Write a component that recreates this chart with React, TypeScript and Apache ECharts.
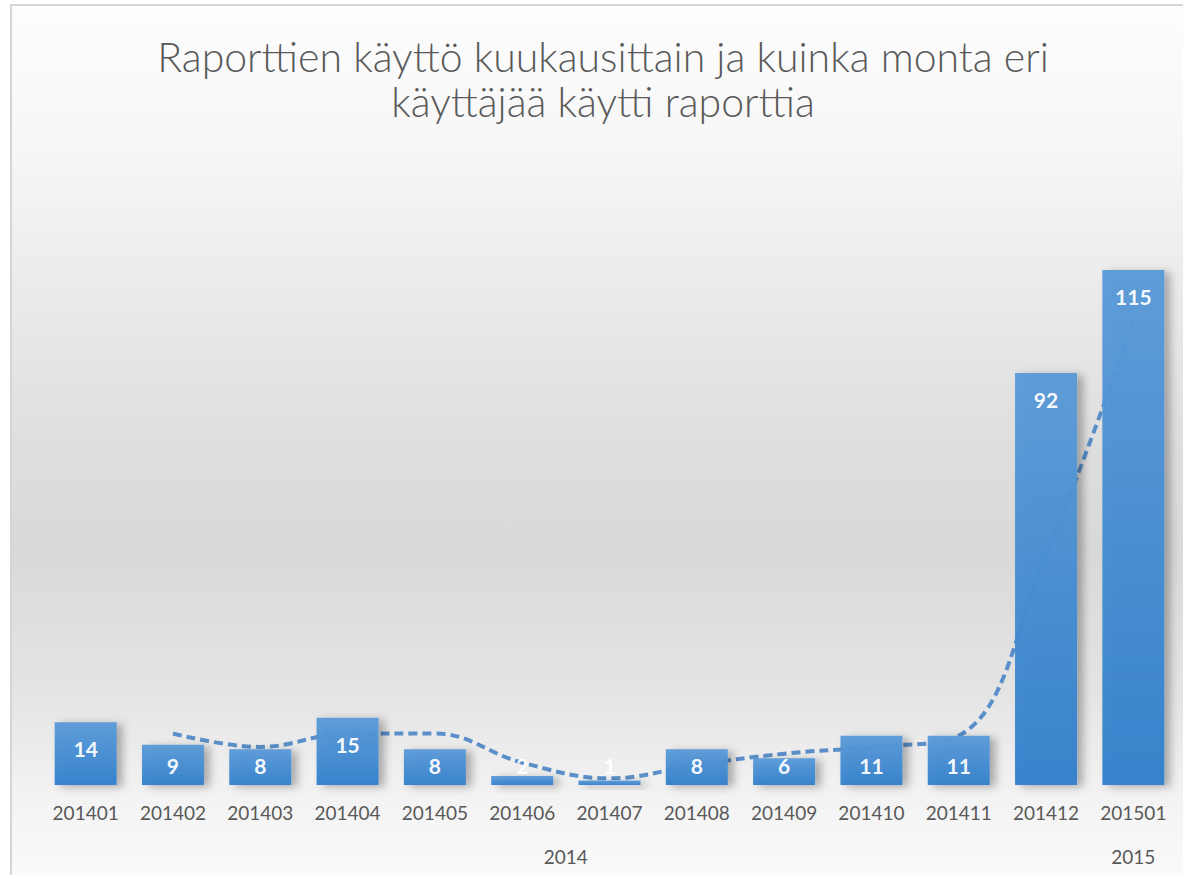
import React, { useEffect, useRef } from "react";
import * as echarts from "echarts";

const TITLE_LINES = [
  "Raporttien käyttö kuukausittain ja kuinka monta eri",
  "käyttäjää käytti raporttia",
];
const months = [
  "201401", "201402", "201403", "201404", "201405", "201406", "201407",
  "201408", "201409", "201410", "201411", "201412", "201501",
];
const usage = [14, 9, 8, 15, 8, 2, 1, 8, 6, 11, 11, 92, 115];
// 2-period moving average trend line
const trend = [null, 11.5, 8.5, 11.5, 11.5, 5, 1.5, 4.5, 7, 8.5, 11, 51.5, 103.5];
const yearGroups = [
  { year: "2014", first: 0, last: 11 },
  { year: "2015", first: 12, last: 12 },
];

const FONT = "Lato, 'Open Sans', sans-serif";

export default function App() {
  const ref = useRef<HTMLDivElement>(null);

  useEffect(() => {
    if (!ref.current) return;
    const chart = echarts.init(ref.current, undefined, { renderer: "svg" });

    const yearLabel = (v: number) => {
      for (const g of yearGroups) {
        const mid = (g.first + g.last) / 2;
        if (Math.abs(v - mid) < 1e-6) return g.year;
      }
      return "";
    };

    chart.setOption({
      animation: false,
      backgroundColor: "transparent",
      title: {
        text: TITLE_LINES.join("\n"),
        left: "center",
        top: 23,
        textStyle: {
          fontFamily: FONT,
          fontWeight: 300,
          fontSize: 41,
          lineHeight: 45,
          color: "#595959",
        },
      },
      grid: { left: 30, right: 17, top: 152, bottom: 90 },
      xAxis: [
        {
          type: "category",
          data: months,
          boundaryGap: true,
          axisLine: { show: false },
          axisTick: { show: false },
          axisLabel: {
            margin: 18,
            fontFamily: FONT,
            fontSize: 19,
            color: "#595959",
          },
        },
        {
          type: "value",
          position: "bottom",
          min: -0.5,
          max: 12.5,
          interval: 0.5,
          axisLine: { show: false },
          axisTick: { show: false },
          splitLine: { show: false },
          axisLabel: {
            margin: 62,
            fontFamily: FONT,
            fontSize: 19,
            color: "#595959",
            showMinLabel: true,
            showMaxLabel: true,
            formatter: (v: number) => yearLabel(v),
          },
        },
      ],
      yAxis: {
        type: "value",
        min: 0,
        max: 140,
        show: false,
        splitLine: { show: false },
      },
      series: [
        {
          type: "line",
          data: trend,
          smooth: 0.4,
          symbol: "none",
          xAxisIndex: 0,
          lineStyle: { color: "#5a8fc9", width: 4, type: [9, 5] },
          z: 1,
        },
        {
          type: "bar",
          xAxisIndex: 0,
          barCategoryGap: "29%",
          data: usage.map((v) => ({
            value: v,
            label:
              v >= 12
                ? { position: "insideTop", distance: 16 }
                : { position: "insideBottom", distance: 9 },
          })),
          itemStyle: {
            opacity: 0.96,
            color: new echarts.graphic.LinearGradient(0, 0, 0, 1, [
              { offset: 0, color: "#5b9bd8" },
              { offset: 1, color: "#3380cc" },
            ]),
            shadowColor: "rgba(0,0,0,0.3)",
            shadowBlur: 9,
            shadowOffsetX: 6,
            shadowOffsetY: 2,
          },
          label: {
            show: true,
            color: "#ffffff",
            fontFamily: FONT,
            fontWeight: "bold",
            fontSize: 21,
          },
          z: 2,
        },
      ],
    });

    return () => chart.dispose();
  }, []);

  return (
    <div
      style={{
        position: "fixed",
        left: 0,
        top: 0,
        width: 1183,
        height: 875,
        background: "#ffffff",
        overflow: "hidden",
      }}
    >
      <div
        style={{
          position: "absolute",
          left: 10,
          top: 4,
          width: 1200,
          height: 880,
          borderLeft: "2px solid #d6d6d6",
          borderTop: "2px solid #d6d6d6",
          background:
            "linear-gradient(to bottom, #fdfdfd 0%, #f7f7f7 15%, #ebebeb 32%, #dedede 50%, #d9d9d9 62%, #e4e4e4 78%, #f3f3f3 90%, #fbfbfb 100%)",
        }}
      >
        <div ref={ref} style={{ width: 1182, height: 869 }} />
      </div>
    </div>
  );
}
